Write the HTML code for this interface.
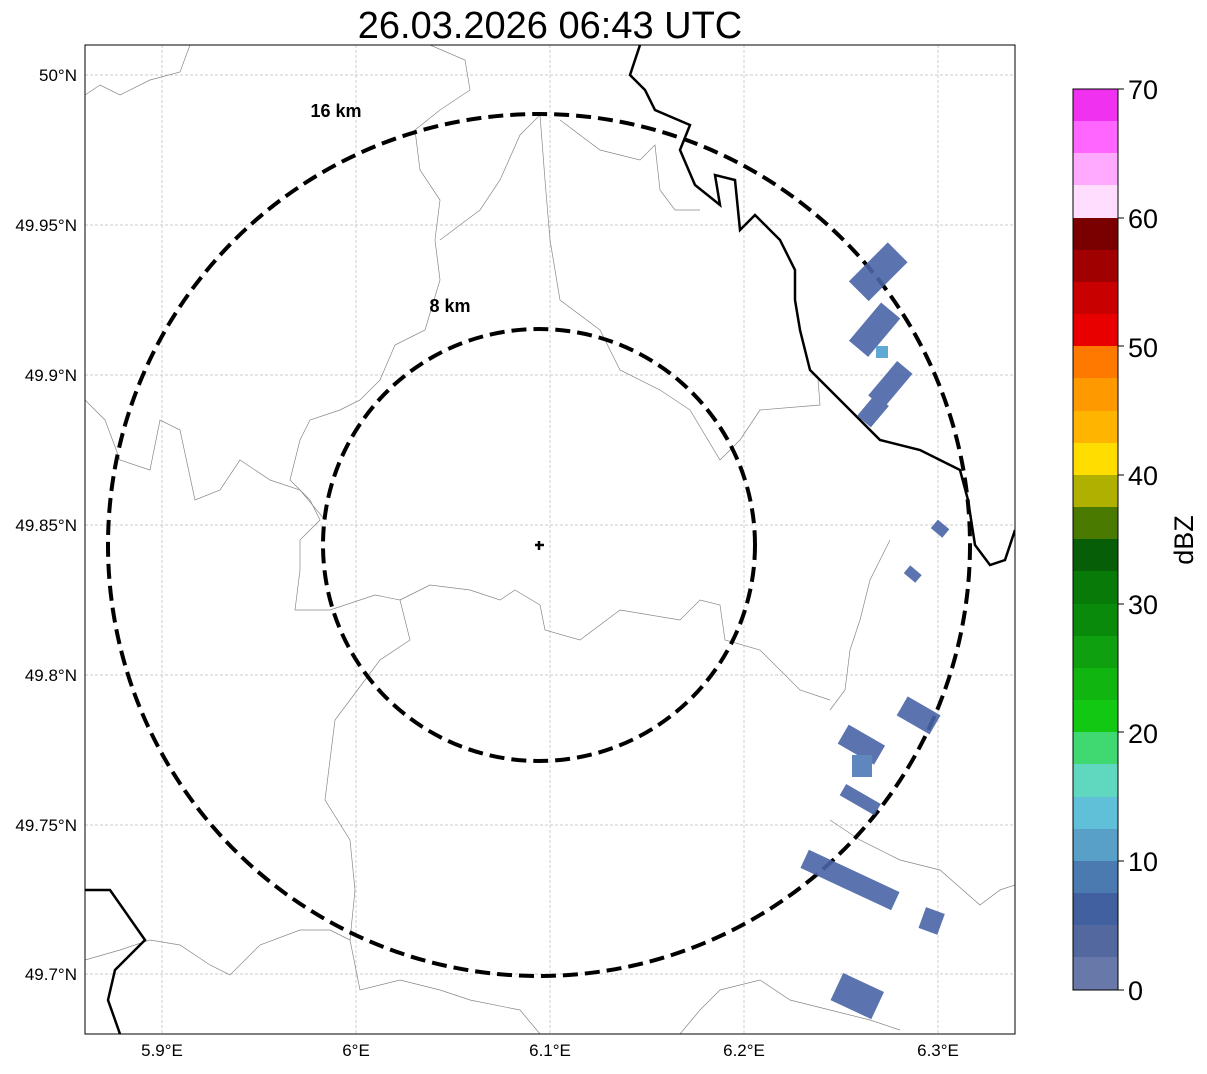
<!DOCTYPE html>
<html><head><meta charset="utf-8"><style>
body{margin:0;background:#fff;width:1207px;height:1069px;overflow:hidden;font-family:"Liberation Sans",sans-serif}
</style></head><body>
<svg width="1207" height="1069" xmlns="http://www.w3.org/2000/svg" font-family="Liberation Sans, sans-serif">
<defs><clipPath id="c"><rect x="85" y="45" width="930" height="989"/></clipPath></defs>
<text x="550" y="38" font-size="38" text-anchor="middle">26.03.2026 06:43 UTC</text>
<g clip-path="url(#c)">
<g stroke="#bbb" stroke-width="0.7" stroke-dasharray="3,2">
<line x1="162" y1="45" x2="162" y2="1034"/><line x1="356" y1="45" x2="356" y2="1034"/><line x1="550" y1="45" x2="550" y2="1034"/><line x1="744" y1="45" x2="744" y2="1034"/><line x1="938" y1="45" x2="938" y2="1034"/>
<line x1="85" y1="75" x2="1015" y2="75"/><line x1="85" y1="225" x2="1015" y2="225"/><line x1="85" y1="375" x2="1015" y2="375"/><line x1="85" y1="525" x2="1015" y2="525"/><line x1="85" y1="675" x2="1015" y2="675"/><line x1="85" y1="825" x2="1015" y2="825"/><line x1="85" y1="974" x2="1015" y2="974"/>
</g>
<g fill="none" stroke="#888" stroke-width="0.7">
<path d="M85,95 L100,85 L120,95 L150,80 L180,72 L190,45"/>
<path d="M430,45 L465,60 L470,90 L440,110 L415,130 L420,170 L440,200 L435,240 L440,280 L425,330 L395,345 L380,380 L360,400 L340,410 L310,420 L300,440 L290,480 L310,500 L320,520 L300,540 L300,570 L295,610 L330,610 L375,595 L400,600 L410,640 L380,660 L350,700 L335,720 L330,760 L325,800 L350,840 L355,890 L350,940 L360,990 L400,980 L440,990 L470,1000 L520,1010 L540,1034"/>
<path d="M85,400 L105,420 L120,460 L150,470 L160,420 L180,430 L195,500 L220,490 L240,460 L270,480 L300,490 L325,520"/>
<path d="M540,115 L545,180 L550,240 L560,300 L600,330 L620,370 L660,390 L690,410 L720,460 L740,440 L760,410 L820,405 L818,380"/>
<path d="M400,600 L430,585 L470,590 L500,600 L515,590 L540,605 L545,630 L580,640 L620,610 L680,620 L700,600 L720,605 L725,640 L760,650 L800,690 L830,700"/>
<path d="M540,115 L520,135 L500,180 L480,210 L440,240"/>
<path d="M560,120 L600,150 L640,160 L655,145 L660,190 L675,210 L700,210"/>
<path d="M85,960 L120,950 L150,940 L180,945 L210,965 L230,975 L260,945 L300,930 L330,930 L350,940"/>
<path d="M890,540 L870,580 L860,620 L850,650 L845,690 L830,710"/>
<path d="M830,820 L860,840 L900,860 L940,870 L980,905 L1000,890 L1015,885"/>
<path d="M680,1034 L700,1010 L720,990 L760,980 L790,1000 L830,1010 L870,1020 L900,1030"/>
</g>
<g fill="none" stroke="#000" stroke-width="2.5">
<path d="M640,45 L630,75 L645,90 L655,110 L690,125 L680,150 L695,185 L720,205 L715,175 L735,180 L740,230 L755,215 L780,240 L795,270 L795,300 L800,330 L810,370 L830,390 L850,410 L880,440 L920,450 L960,470 L968,500 L975,545 L990,565 L1005,560 L1015,530"/>
<path d="M85,890 L110,890 L145,940 L115,970 L108,1000 L120,1034"/>
</g>
<g fill="none" stroke="#000" stroke-width="4" stroke-dasharray="15,7">
<ellipse cx="539" cy="545" rx="431" ry="431"/>
<ellipse cx="539" cy="545" rx="216" ry="216"/>
</g>
<path d="M539,541v9M535,545h9" stroke="#000" stroke-width="2.5"/>
<text x="336" y="117" font-size="18" font-weight="bold" text-anchor="middle">16 km</text>
<text x="450" y="312" font-size="18" font-weight="bold" text-anchor="middle">8 km</text>
<g fill="#4a64a6" opacity="0.9">
<g transform="rotate(45 880 270)"><rect x="866" y="245" width="28" height="55"/></g>
<g transform="rotate(40 875 330)"><rect x="862" y="305" width="25" height="50"/></g>
<g transform="rotate(40 890 385)"><rect x="880" y="362" width="20" height="45"/></g>
<g transform="rotate(40 875 410)"><rect x="865" y="398" width="18" height="28"/></g>
<g transform="rotate(-50 940 528)"><rect x="934" y="521" width="11" height="15"/></g>
<g transform="rotate(-50 913 573)"><rect x="907" y="566" width="10" height="15"/></g>
<g transform="rotate(30 920 715)"><rect x="900" y="705" width="38" height="22"/></g>
<g transform="rotate(30 860 745)"><rect x="840" y="733" width="42" height="22"/></g>
<rect x="852" y="755" width="20" height="22" fill="#4f7ab8"/>
<g transform="rotate(30 860 800)"><rect x="840" y="793" width="40" height="13"/></g>
<g transform="rotate(25 850 880)"><rect x="800" y="870" width="100" height="20"/></g>
<g transform="rotate(20 932 920)"><rect x="922" y="910" width="20" height="22"/></g>
<g transform="rotate(25 855 995)"><rect x="835" y="980" width="45" height="30"/></g>
</g>
<rect x="876" y="346" width="12" height="12" fill="#5fa8d4"/>
</g>
<rect x="85" y="45" width="930" height="989" fill="none" stroke="#000" stroke-width="1"/>
<g font-size="17" text-anchor="end">
<text x="77" y="81">50°N</text><text x="77" y="231">49.95°N</text><text x="77" y="381">49.9°N</text><text x="77" y="531">49.85°N</text><text x="77" y="681">49.8°N</text><text x="77" y="831">49.75°N</text><text x="77" y="980">49.7°N</text>
</g>
<g font-size="17" text-anchor="middle">
<text x="162" y="1056">5.9°E</text><text x="356" y="1056">6°E</text><text x="550" y="1056">6.1°E</text><text x="744" y="1056">6.2°E</text><text x="938" y="1056">6.3°E</text>
</g>
<g>
<rect x="1073" y="89" width="45" height="33" fill="#f032f0"/>
<rect x="1073" y="121" width="45" height="33" fill="#ff66ff"/>
<rect x="1073" y="153" width="45" height="33" fill="#ffaaff"/>
<rect x="1073" y="185" width="45" height="33" fill="#ffddff"/>
<rect x="1073" y="218" width="45" height="33" fill="#7a0000"/>
<rect x="1073" y="250" width="45" height="33" fill="#a00000"/>
<rect x="1073" y="282" width="45" height="33" fill="#c80000"/>
<rect x="1073" y="314" width="45" height="33" fill="#e80000"/>
<rect x="1073" y="346" width="45" height="33" fill="#ff7800"/>
<rect x="1073" y="378" width="45" height="33" fill="#ff9900"/>
<rect x="1073" y="411" width="45" height="33" fill="#ffb400"/>
<rect x="1073" y="443" width="45" height="33" fill="#ffdd00"/>
<rect x="1073" y="475" width="45" height="33" fill="#b0b000"/>
<rect x="1073" y="507" width="45" height="33" fill="#4a7a00"/>
<rect x="1073" y="539" width="45" height="33" fill="#065f06"/>
<rect x="1073" y="571" width="45" height="33" fill="#087a08"/>
<rect x="1073" y="604" width="45" height="33" fill="#0a8a0a"/>
<rect x="1073" y="636" width="45" height="33" fill="#0ea00e"/>
<rect x="1073" y="668" width="45" height="33" fill="#10b510"/>
<rect x="1073" y="700" width="45" height="33" fill="#12c812"/>
<rect x="1073" y="732" width="45" height="33" fill="#40d870"/>
<rect x="1073" y="764" width="45" height="33" fill="#60d8c0"/>
<rect x="1073" y="797" width="45" height="33" fill="#60c0d8"/>
<rect x="1073" y="829" width="45" height="33" fill="#58a0c8"/>
<rect x="1073" y="861" width="45" height="33" fill="#4a7ab0"/>
<rect x="1073" y="893" width="45" height="33" fill="#4060a0"/>
<rect x="1073" y="925" width="45" height="33" fill="#5468a0"/>
<rect x="1073" y="957" width="45" height="33" fill="#6878a8"/>
<rect x="1073" y="89" width="45" height="901" fill="none" stroke="#000" stroke-width="1"/>
</g>
<g font-size="27">
<text x="1128" y="99">70</text><text x="1128" y="228">60</text><text x="1128" y="357">50</text><text x="1128" y="485">40</text><text x="1128" y="614">30</text><text x="1128" y="743">20</text><text x="1128" y="871">10</text><text x="1128" y="1000">0</text>
</g>
<g stroke="#000"><line x1="1118" y1="89" x2="1124" y2="89"/><line x1="1118" y1="218" x2="1124" y2="218"/><line x1="1118" y1="346" x2="1124" y2="346"/><line x1="1118" y1="475" x2="1124" y2="475"/><line x1="1118" y1="604" x2="1124" y2="604"/><line x1="1118" y1="732" x2="1124" y2="732"/><line x1="1118" y1="861" x2="1124" y2="861"/><line x1="1118" y1="990" x2="1124" y2="990"/></g>
<text transform="translate(1193 540) rotate(-90)" font-size="27" text-anchor="middle">dBZ</text>
</svg>
</body></html>
